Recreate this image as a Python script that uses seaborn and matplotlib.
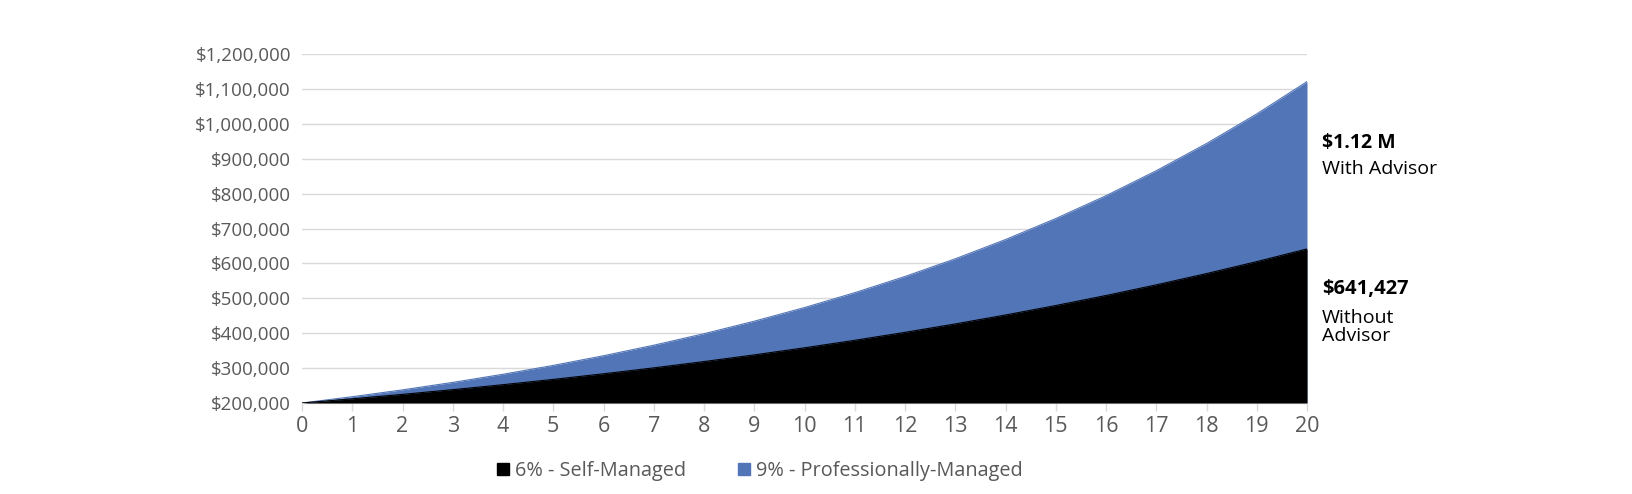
import matplotlib
matplotlib.use("Agg")
import matplotlib.pyplot as plt
from matplotlib.patches import Patch
from matplotlib.ticker import FuncFormatter
import seaborn as sns
import pandas as pd

years = list(range(0, 21))
self_managed = [200000, 212000, 224720, 238203, 252495, 267645, 283704, 300726,
                318770, 337896, 358170, 379660, 402440, 426586, 452181, 479312,
                508071, 538555, 570869, 605121, 641427]
pro_managed = [200000, 218000, 237620, 259006, 282316, 307725, 335420, 365608,
               398513, 434379, 473473, 516086, 562533, 613161, 668345, 728496,
               794061, 865526, 943424, 1028332, 1120882]
series_names = ["6% - Self-Managed", "9% - Professionally-Managed"]
y_ticks = [200000, 300000, 400000, 500000, 600000, 700000, 800000, 900000,
           1000000, 1100000, 1200000]
end_labels = [("$1.12 M", "With Advisor"), ("$641,427", "Without\nAdvisor")]

BLACK = "#000000"
BLUE = "#5275B7"
GRAY = "#595959"

sns.set_theme(style="white")
plt.rcParams["font.family"] = ["Open Sans", "DejaVu Sans"]

df = pd.DataFrame({"year": years, "self": self_managed, "pro": pro_managed})

fig = plt.figure(figsize=(16.32, 4.94), dpi=100)
ax = fig.add_axes([302 / 1632, 1 - 403 / 494, (1307 - 302) / 1632, (403 - 54) / 494])

base = y_ticks[0]
ax.fill_between(df["year"], base, df["pro"], color=BLUE, linewidth=0, zorder=2)
ax.fill_between(df["year"], base, df["self"], color=BLACK, linewidth=0, zorder=3)
sns.lineplot(data=df, x="year", y="pro", ax=ax, color=BLUE, linewidth=0.8, zorder=2)
sns.lineplot(data=df, x="year", y="self", ax=ax, color=BLACK, linewidth=0.8, zorder=3)

ax.set_xlim(0, 20)
ax.set_ylim(200000, 1200000)
ax.set_xticks(years)
ax.set_yticks(y_ticks)
ax.yaxis.set_major_formatter(FuncFormatter(lambda v, p: f"${v:,.0f}"))
ax.set_xlabel("")
ax.set_ylabel("")
ax.grid(axis="y", color="#d9d9d9", linewidth=1, zorder=0)
ax.set_axisbelow(True)
for s in ["left", "right", "top"]:
    ax.spines[s].set_visible(False)
ax.spines["bottom"].set_color("#d9d9d9")
ax.spines["bottom"].set_linewidth(1)
ax.tick_params(axis="x", colors=GRAY, labelsize=15.5, length=6, width=1,
               direction="out", bottom=True, pad=3)
ax.tick_params(axis="x", color="#d9d9d9")
ax.tick_params(axis="y", labelcolor=GRAY, labelsize=13.5, length=0, pad=8)

# End labels
lx = 1322 / 1632
fig.text(lx, 1 - 143 / 494, end_labels[0][0], fontsize=14, fontweight="bold",
         color="black", va="center", ha="left")
fig.text(lx, 1 - 169 / 494, end_labels[0][1], fontsize=14, color="black",
         va="center", ha="left")
fig.text(lx, 1 - 289 / 494, end_labels[1][0], fontsize=14.5, fontweight="bold",
         color="black", va="center", ha="left")
fig.text(lx, 1 - 327 / 494, end_labels[1][1], fontsize=14, color="black",
         va="center", ha="left", linespacing=0.95)

handles = [Patch(color=BLACK, label=series_names[0]), Patch(color=BLUE, label=series_names[1])]
fig.legend(handles=handles, loc="center", bbox_to_anchor=(760 / 1632, 1 - 471 / 494),
           ncol=2, frameon=False, fontsize=14.3, labelcolor=GRAY, handlelength=0.6,
           handleheight=0.6, handletextpad=0.3, columnspacing=2.6)

fig.savefig("out.png", dpi=100)
